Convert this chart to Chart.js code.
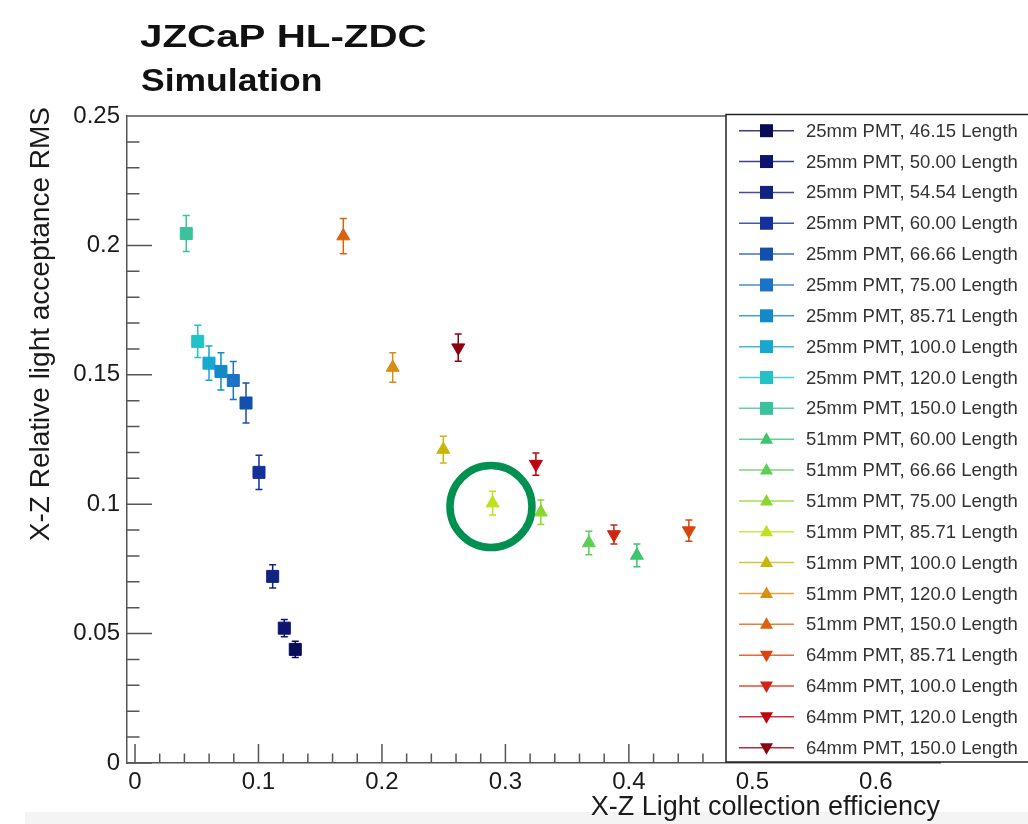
<!DOCTYPE html>
<html lang="en">
<head>
<meta charset="UTF-8">
<title>JZCaP HL-ZDC Simulation</title>
<script src="https://cdn.jsdelivr.net/npm/chart.js@4.4.1/dist/chart.umd.min.js"></script>
<style>
  html, body { margin: 0; padding: 0; background: #fff; }
  .wrap { position: relative; width: 1028px; height: 824px; }
</style>
</head>
<body>
<div class="wrap"><canvas id="rmsChart"></canvas></div>
<script>
// values, one entry per legend row
const pmtSizes = [25, 25, 25, 25, 25, 25, 25, 25, 25, 25,
                  51, 51, 51, 51, 51, 51, 51,
                  64, 64, 64, 64];
const pmtLengths = ['46.15', '50.00', '54.54', '60.00', '66.66', '75.00', '85.71', '100.0', '120.0', '150.0',
                    '60.00', '66.66', '75.00', '85.71', '100.0', '120.0', '150.0',
                    '85.71', '100.0', '120.0', '150.0'];
const efficiency = [0.1298, 0.1209, 0.1115, 0.1004, 0.0899, 0.0796, 0.0696, 0.0599, 0.0508, 0.0415,
                    0.4065, 0.3676, 0.3287, 0.2896, 0.2497, 0.2087, 0.1687,
                    0.4486, 0.3879, 0.3247, 0.2618];
const rmsValues = [0.0439, 0.0521, 0.0721, 0.1123, 0.1391, 0.1478, 0.1513, 0.1545, 0.1629, 0.2046,
                   0.0802, 0.0850, 0.0969, 0.1004, 0.1211, 0.1528, 0.2036,
                   0.0898, 0.0883, 0.1155, 0.1605];
const rmsErrors = [0.0031, 0.0033, 0.0045, 0.0066, 0.0077, 0.0073, 0.0072, 0.0066, 0.0062, 0.0070,
                   0.0044, 0.0045, 0.0047, 0.0046, 0.0052, 0.0057, 0.0068,
                   0.0041, 0.0037, 0.0043, 0.0053];
const xTickLabels = [0, 0.1, 0.2, 0.3, 0.4, 0.5, 0.6];
const yTickLabels = [0, 0.05, 0.1, 0.15, 0.2, 0.25];

const seriesColors = ['#0b0b55', '#0d1470', '#11237e', '#15309a', '#1350ae', '#1c72c6', '#128ac8', '#17a8ce', '#22c2c6', '#3ac29c',
                      '#3ec46e', '#5ccf54', '#8cd630', '#bde21c', '#c9b60a', '#d88e12', '#d9620e',
                      '#d8440e', '#d42410', '#c20010', '#8e0010'];
const highlight = { x: 0.2883, y: 0.0991 };

const FONT = '"Liberation Sans", Arial, sans-serif';
Chart.defaults.font.family = FONT;

const xMinor = [];
for (let i = 0; i <= 32; i++) xMinor.push(Math.round(i * 2) / 100);
const yMinor = [];
for (let i = 0; i <= 25; i++) yMinor.push(i / 100);
const isLabelled = (list, v) => list.some(t => Math.abs(t - v) < 1e-9);

const markerOf = size => size === 25 ? 'rect' : (size === 64 ? 'down' : 'up');

const datasets = pmtSizes.map((size, i) => ({
  label: `${size}mm PMT, ${pmtLengths[i]} Length`,
  data: [{ x: efficiency[i], y: rmsValues[i], err: rmsErrors[i] }],
  pointStyle: size === 25 ? 'rect' : 'triangle',
  pointRotation: size === 64 ? 180 : 0,
  pointRadius: size === 25 ? 8.5 : 7.5,
  pointBackgroundColor: seriesColors[i],
  pointBorderColor: seriesColors[i],
  pointBorderWidth: 1,
  borderColor: seriesColors[i],
  showLine: false,
  marker: markerOf(size)
}));

const AXIS = '#555';

const background = {
  id: 'background',
  beforeDraw(chart) {
    const ctx = chart.ctx;
    ctx.save();
    ctx.fillStyle = '#fff';
    ctx.fillRect(0, 0, chart.width, chart.height);
    ctx.fillStyle = '#f4f4f4';
    ctx.fillRect(25, 812, chart.width - 25, chart.height - 812);
    ctx.restore();
  }
};

// frame top and inward tick marks
const frameTicks = {
  id: 'frameTicks',
  beforeDatasetsDraw(chart) {
    const { ctx, chartArea: a, scales: { x, y } } = chart;
    ctx.save();
    ctx.strokeStyle = AXIS;
    ctx.lineWidth = 1.5;
    ctx.beginPath();
    ctx.moveTo(a.left, a.top);
    ctx.lineTo(a.right, a.top);
    y.ticks.forEach(t => {
      const py = y.getPixelForValue(t.value);
      const len = isLabelled(yTickLabels, t.value) ? 25 : 12.5;
      ctx.moveTo(a.left, py);
      ctx.lineTo(a.left + len, py);
    });
    x.ticks.forEach(t => {
      const px = x.getPixelForValue(t.value);
      const len = isLabelled(xTickLabels, t.value) ? 19 : 9.5;
      ctx.moveTo(px, a.bottom);
      ctx.lineTo(px, a.bottom - len);
    });
    ctx.stroke();
    ctx.restore();
  }
};

const errorBars = {
  id: 'errorBars',
  beforeDatasetsDraw(chart) {
    const { ctx, scales: { x, y } } = chart;
    ctx.save();
    ctx.lineWidth = 1.5;
    chart.data.datasets.forEach(ds => {
      ds.data.forEach(p => {
        const px = x.getPixelForValue(p.x);
        const top = y.getPixelForValue(p.y + p.err);
        const bot = y.getPixelForValue(p.y - p.err);
        ctx.strokeStyle = ds.borderColor;
        ctx.beginPath();
        ctx.moveTo(px, top); ctx.lineTo(px, bot);
        ctx.moveTo(px - 3.5, top); ctx.lineTo(px + 3.5, top);
        ctx.moveTo(px - 3.5, bot); ctx.lineTo(px + 3.5, bot);
        ctx.stroke();
      });
    });
    ctx.restore();
  }
};

const circleMark = {
  id: 'circleMark',
  afterDatasetsDraw(chart) {
    const { ctx, scales: { x, y } } = chart;
    ctx.save();
    ctx.strokeStyle = '#00904f';
    ctx.lineWidth = 7.5;
    ctx.beginPath();
    ctx.arc(x.getPixelForValue(highlight.x), y.getPixelForValue(highlight.y), 41, 0, Math.PI * 2);
    ctx.stroke();
    ctx.restore();
  }
};

function drawMarker(ctx, kind, cx, cy, color) {
  ctx.fillStyle = color;
  ctx.beginPath();
  if (kind === 'rect') {
    ctx.rect(cx - 6.5, cy - 6.5, 13, 13);
  } else if (kind === 'up') {
    ctx.moveTo(cx, cy - 7); ctx.lineTo(cx + 6.5, cy + 4.5); ctx.lineTo(cx - 6.5, cy + 4.5);
  } else {
    ctx.moveTo(cx, cy + 7); ctx.lineTo(cx + 6.5, cy - 4.5); ctx.lineTo(cx - 6.5, cy - 4.5);
  }
  ctx.closePath();
  ctx.fill();
}

const boxLegend = {
  id: 'boxLegend',
  afterDraw(chart) {
    const ctx = chart.ctx;
    const left = 726, top = 114.5, bottom = 762;
    ctx.save();
    ctx.fillStyle = '#fff';
    ctx.fillRect(left, top, chart.width - left + 5, bottom - top);
    ctx.strokeStyle = '#222';
    ctx.lineWidth = 1.5;
    ctx.strokeRect(left, top, chart.width - left + 5, bottom - top);
    ctx.font = `18.5px ${FONT}`;
    ctx.textBaseline = 'middle';
    chart.data.datasets.forEach((ds, i) => {
      const cy = 130.7 + i * 30.85;
      ctx.globalAlpha = 0.8;
      ctx.strokeStyle = ds.borderColor;
      ctx.beginPath();
      ctx.moveTo(739, cy); ctx.lineTo(794, cy);
      ctx.stroke();
      ctx.globalAlpha = 1;
      drawMarker(ctx, ds.marker, 766.5, cy, ds.borderColor);
      ctx.fillStyle = '#333';
      ctx.fillText(ds.label, 806, cy + 1);
    });
    ctx.restore();
  }
};

const headings = {
  id: 'headings',
  afterDraw(chart) {
    const ctx = chart.ctx;
    ctx.save();
    ctx.fillStyle = '#111';
    ctx.textBaseline = 'alphabetic';
    ctx.font = `bold 32px ${FONT}`;
    ctx.save();
    ctx.translate(140, 47);
    ctx.scale(1.26, 1);
    ctx.fillText('JZCaP HL-ZDC', 0, 0);
    ctx.restore();
    ctx.font = `bold 31px ${FONT}`;
    ctx.save();
    ctx.translate(141, 90.7);
    ctx.scale(1.145, 1);
    ctx.fillText('Simulation', 0, 0);
    ctx.restore();
    // y axis title, right-aligned to the top of the frame
    ctx.fillStyle = '#1a1a1a';
    ctx.font = `28px ${FONT}`;
    ctx.translate(48.5, 107);
    ctx.rotate(-Math.PI / 2);
    ctx.textAlign = 'right';
    ctx.fillText('X-Z Relative light acceptance RMS', 0, 0);
    ctx.restore();
  }
};

new Chart(document.getElementById('rmsChart'), {
  type: 'scatter',
  data: { datasets },
  options: {
    responsive: true,
    maintainAspectRatio: false,
    animation: false,
    events: [],
    layout: { padding: { top: 116, right: 88, left: 0, bottom: 0 } },
    plugins: { legend: { display: false }, tooltip: { enabled: false } },
    scales: {
      x: {
        type: 'linear',
        min: -0.0065,
        max: 0.652,
        afterBuildTicks: scale => { scale.ticks = xMinor.map(v => ({ value: v })); },
        afterFit: scale => { scale.height = 61; },
        grid: { display: false, drawTicks: false },
        border: { display: true, color: AXIS, width: 1.5 },
        ticks: {
          autoSkip: false,
          maxRotation: 0,
          padding: 5,
          color: '#1a1a1a',
          font: { size: 24 },
          callback: v => isLabelled(xTickLabels, v) ? String(+v.toFixed(2)) : ''
        },
        title: {
          display: true,
          text: 'X-Z Light collection efficiency',
          align: 'end',
          color: '#1a1a1a',
          font: { size: 27 },
          padding: 0
        }
      },
      y: {
        type: 'linear',
        min: 0,
        max: 0.25,
        afterBuildTicks: scale => { scale.ticks = yMinor.map(v => ({ value: v })); },
        afterFit: scale => { scale.width = 127; },
        grid: { display: false, drawTicks: false },
        border: { display: true, color: AXIS, width: 1.5 },
        ticks: {
          autoSkip: false,
          padding: 7,
          color: '#1a1a1a',
          font: { size: 24 },
          callback: v => isLabelled(yTickLabels, v) ? String(+v.toFixed(2)) : ''
        }
      }
    }
  },
  plugins: [background, frameTicks, errorBars, circleMark, boxLegend, headings]
});
</script>
</body>
</html>
